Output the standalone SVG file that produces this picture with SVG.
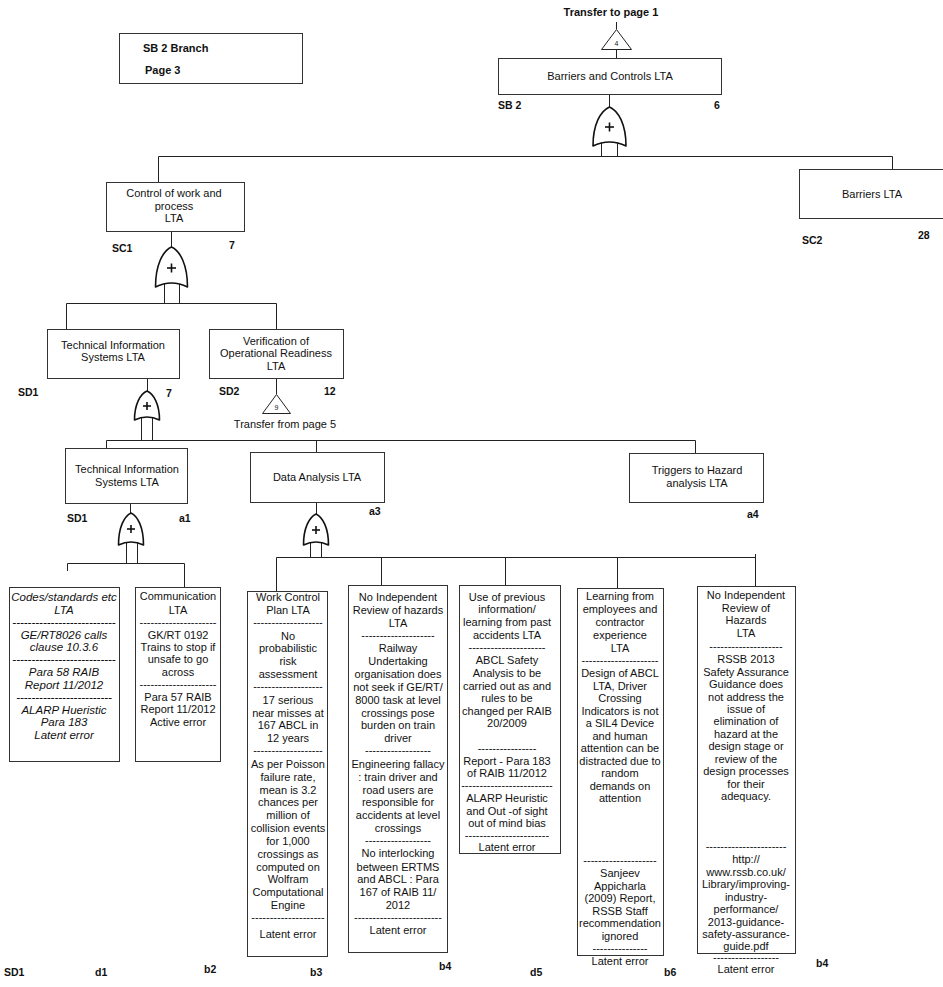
<svg xmlns="http://www.w3.org/2000/svg" width="943" height="987" viewBox="0 0 943 987">
<style>
.t{font-family:"Liberation Sans",Arial,sans-serif;font-size:11px;fill:#111;text-anchor:middle}
.i{font-style:italic;font-size:11.5px}
.lb{font-family:"Liberation Sans",Arial,sans-serif;font-size:10.5px;font-weight:bold;fill:#111}
.box{fill:#fff;stroke:#333;stroke-width:1}
.ln{stroke:#222;stroke-width:1;fill:none}
.gate{fill:#fff;stroke:#111;stroke-width:1.6;stroke-linejoin:round}
.plus{stroke:#111;stroke-width:1.6}
.tri{fill:#fff;stroke:#222;stroke-width:1}
.sm{font-family:"Liberation Sans",Arial,sans-serif;font-size:7px;fill:#222;text-anchor:middle}
</style>
<rect width="943" height="987" fill="#fff"/>

<g id="connectors">
  <line class="ln" x1="616.5" y1="22" x2="616.5" y2="29"/>
  <line class="ln" x1="616.5" y1="49" x2="616.5" y2="58"/>
  <line class="ln" x1="609.5" y1="94" x2="609.5" y2="108"/>
  <line class="ln" x1="601.5" y1="138" x2="601.5" y2="157"/>
  <line class="ln" x1="617.5" y1="138" x2="617.5" y2="157"/>
  <polyline class="ln" points="158.5,182 158.5,156.5 892.5,156.5 892.5,169"/>
  <line class="ln" x1="171.5" y1="231" x2="171.5" y2="248"/>
  <line class="ln" x1="164.5" y1="280" x2="164.5" y2="304"/>
  <line class="ln" x1="179.5" y1="280" x2="179.5" y2="304"/>
  <polyline class="ln" points="66.5,329 66.5,303.5 276.5,303.5 276.5,329"/>
  <line class="ln" x1="147.5" y1="378" x2="147.5" y2="392"/>
  <line class="ln" x1="276.5" y1="378" x2="276.5" y2="394"/>
  <line class="ln" x1="141.5" y1="414" x2="141.5" y2="441"/>
  <line class="ln" x1="152.5" y1="414" x2="152.5" y2="441"/>
  <polyline class="ln" points="106.5,448 106.5,440.5 695.5,440.5 695.5,453"/>
  <line class="ln" x1="316.5" y1="440.5" x2="316.5" y2="452"/>
  <line class="ln" x1="130.5" y1="503" x2="130.5" y2="514"/>
  <line class="ln" x1="316.5" y1="502" x2="316.5" y2="515"/>
  <line class="ln" x1="126.5" y1="538" x2="126.5" y2="563"/>
  <line class="ln" x1="137.5" y1="538" x2="137.5" y2="563"/>
  <polyline class="ln" points="67.5,571 67.5,563.5 184.5,563.5 184.5,587"/>
  <line class="ln" x1="310.5" y1="538" x2="310.5" y2="558"/>
  <line class="ln" x1="321.5" y1="538" x2="321.5" y2="558"/>
  <line class="ln" x1="276.5" y1="557.5" x2="755.5" y2="557.5"/>
  <line class="ln" x1="276.5" y1="557.5" x2="276.5" y2="592"/>
  <line class="ln" x1="381.5" y1="557.5" x2="381.5" y2="586"/>
  <line class="ln" x1="505.5" y1="557.5" x2="505.5" y2="586"/>
  <line class="ln" x1="617.5" y1="557.5" x2="617.5" y2="589"/>
  <line class="ln" x1="755.5" y1="554" x2="755.5" y2="587"/>
</g>

<g id="page-label">
  <rect class="box" x="119.5" y="33.5" width="183" height="50"/>
  <text class="lb" style="font-size:11px" x="143" y="52">SB 2 Branch</text>
  <text class="lb" style="font-size:11px" x="145" y="74">Page 3</text>
</g>

<g id="transfer-to-1">
  <text class="lb" style="font-size:11px;text-anchor:middle" x="611" y="16">Transfer to page 1</text>
  <polygon class="tri" points="616.5,29.5 601.5,49.5 631.5,49.5"/>
  <text class="sm" x="616.5" y="46">4</text>
</g>

<g id="SB2">
  <rect class="box" x="498.5" y="58.5" width="223" height="36"/>
  <text class="t" x="610" y="80">Barriers and Controls LTA</text>
  <text class="lb" x="498" y="109">SB 2</text>
  <text class="lb" x="714" y="109">6</text>
</g>
<g id="gate-SB2">
  <path class="gate" d="M609.5,107 C618.6,110.9 626,124.6 626,146 Q609.5,138 593,146 C593,124.6 600.4,110.9 609.5,107 Z"/>
  <line class="plus" x1="605" y1="127" x2="614" y2="127"/><line class="plus" x1="609.5" y1="122.5" x2="609.5" y2="131.5"/>
</g>

<g id="SC2">
  <rect class="box" x="799.5" y="169.5" width="150" height="49"/>
  <text class="t" x="872" y="198">Barriers LTA</text>
  <text class="lb" x="802" y="244">SC2</text>
  <text class="lb" x="918" y="239">28</text>
</g>

<g id="SC1">
  <rect class="box" x="106.5" y="182.5" width="138" height="49"/>
  <text class="t" x="174" y="197">Control of work and</text>
  <text class="t" x="174" y="210">process</text>
  <text class="t" x="174" y="222">LTA</text>
  <text class="lb" x="112" y="252">SC1</text>
  <text class="lb" x="229" y="249">7</text>
</g>
<g id="gate-SC1">
  <path class="gate" d="M171.5,247 C180.3,251 187.5,265 187.5,287 Q171.5,279 155.5,287 C155.5,265 162.7,251 171.5,247 Z"/>
  <line class="plus" x1="167" y1="268" x2="176" y2="268"/><line class="plus" x1="171.5" y1="263.5" x2="171.5" y2="272.5"/>
</g>

<g id="SD1-top">
  <rect class="box" x="47.5" y="329.5" width="132" height="49"/>
  <text class="t" x="113" y="349">Technical Information</text>
  <text class="t" x="113" y="361">Systems LTA</text>
  <text class="lb" x="18" y="396">SD1</text>
  <text class="lb" x="166" y="397">7</text>
</g>
<g id="gate-SD1-top">
  <path class="gate" d="M147,391 C153.9,394 159.5,404.5 159.5,420 Q147,414 134.5,420 C134.5,404.5 140.1,394 147,391 Z"/>
  <line class="plus" x1="143" y1="406" x2="151" y2="406"/><line class="plus" x1="147" y1="402" x2="147" y2="410"/>
</g>

<g id="SD2">
  <rect class="box" x="209.5" y="329.5" width="134" height="49"/>
  <text class="t" x="276" y="345">Verification of</text>
  <text class="t" x="276" y="357">Operational Readiness</text>
  <text class="t" x="276" y="370">LTA</text>
  <text class="lb" x="219" y="395">SD2</text>
  <text class="lb" x="324" y="395">12</text>
</g>
<g id="transfer-from-5">
  <polygon class="tri" points="276.5,394.5 262.5,413.5 290.5,413.5"/>
  <text class="sm" x="276.5" y="410">9</text>
  <text class="t" x="285" y="428">Transfer from page 5</text>
</g>

<g id="SD1-a1">
  <rect class="box" x="65.5" y="448.5" width="122" height="55"/>
  <text class="t" x="127" y="473">Technical Information</text>
  <text class="t" x="127" y="486">Systems LTA</text>
  <text class="lb" x="67" y="522">SD1</text>
  <text class="lb" x="179" y="522">a1</text>
</g>
<g id="gate-a1">
  <path class="gate" d="M131,513 C137.9,516.3 143.5,527.4 143.5,545 Q131,539 118.5,545 C118.5,527.4 124.1,516.3 131,513 Z"/>
  <line class="plus" x1="127" y1="529" x2="135" y2="529"/><line class="plus" x1="131" y1="525" x2="131" y2="533"/>
</g>

<g id="a3">
  <rect class="box" x="250.5" y="452.5" width="134" height="50"/>
  <text class="t" x="317" y="481">Data Analysis LTA</text>
  <text class="lb" x="369" y="515">a3</text>
</g>
<g id="gate-a3">
  <path class="gate" d="M316,514 C322.9,517.3 328.5,528.1 328.5,545 Q316,539 303.5,545 C303.5,528.1 309.1,517.3 316,514 Z"/>
  <line class="plus" x1="312" y1="530" x2="320" y2="530"/><line class="plus" x1="316" y1="526" x2="316" y2="534"/>
</g>

<g id="a4">
  <rect class="box" x="629.5" y="453.5" width="134" height="49"/>
  <text class="t" x="697" y="474">Triggers to Hazard</text>
  <text class="t" x="697" y="487">analysis LTA</text>
  <text class="lb" x="747" y="518">a4</text>
</g>

<g id="d1">
  <rect class="box" x="9.5" y="587.5" width="110" height="174"/>
  <text class="t i" x="64" y="601">Codes/standards etc</text>
  <text class="t i" x="64" y="614">LTA</text>
  <text class="t i" x="64" y="626">---------------------------</text>
  <text class="t i" x="64" y="639">GE/RT8026 calls</text>
  <text class="t i" x="64" y="651">clause 10.3.6</text>
  <text class="t i" x="64" y="663">---------------------------</text>
  <text class="t i" x="64" y="676">Para 58 RAIB</text>
  <text class="t i" x="64" y="689">Report 11/2012</text>
  <text class="t i" x="64" y="701">-------------------------</text>
  <text class="t i" x="64" y="714">ALARP Hueristic</text>
  <text class="t i" x="64" y="726">Para 183</text>
  <text class="t i" x="64" y="739">Latent error</text>
</g>

<g id="b2">
  <rect class="box" x="135.5" y="587.5" width="85" height="174"/>
  <text class="t" x="178" y="600">Communication</text>
  <text class="t" x="178" y="614">LTA</text>
  <text class="t" x="178" y="626">---------------------</text>
  <text class="t" x="178" y="639">GK/RT 0192</text>
  <text class="t" x="178" y="651">Trains to stop if</text>
  <text class="t" x="178" y="663">unsafe to go</text>
  <text class="t" x="178" y="676">across</text>
  <text class="t" x="178" y="688">---------------------</text>
  <text class="t" x="178" y="701">Para 57 RAIB</text>
  <text class="t" x="178" y="713">Report 11/2012</text>
  <text class="t" x="178" y="726">Active error</text>
</g>

<g id="b3">
  <rect class="box" x="247.5" y="591.5" width="80" height="365"/>
  <text class="t" x="288" y="601">Work Control</text>
  <text class="t" x="288" y="614">Plan LTA</text>
  <text class="t" x="288" y="626">-------------------</text>
  <text class="t" x="288" y="640">No</text>
  <text class="t" x="288" y="652">probabilistic</text>
  <text class="t" x="288" y="665">risk</text>
  <text class="t" x="288" y="678">assessment</text>
  <text class="t" x="288" y="690">-------------------</text>
  <text class="t" x="288" y="704">17 serious</text>
  <text class="t" x="288" y="717">near misses at</text>
  <text class="t" x="288" y="729">167 ABCL in</text>
  <text class="t" x="288" y="742">12 years</text>
  <text class="t" x="288" y="754">-------------------</text>
  <text class="t" x="288" y="768">As per Poisson</text>
  <text class="t" x="288" y="781">failure rate,</text>
  <text class="t" x="288" y="794">mean is 3.2</text>
  <text class="t" x="288" y="806">chances per</text>
  <text class="t" x="288" y="819">million of</text>
  <text class="t" x="288" y="832">collision events</text>
  <text class="t" x="288" y="845">for 1,000</text>
  <text class="t" x="288" y="858">crossings as</text>
  <text class="t" x="288" y="871">computed on</text>
  <text class="t" x="288" y="883">Wolfram</text>
  <text class="t" x="288" y="896">Computational</text>
  <text class="t" x="288" y="909">Engine</text>
  <text class="t" x="288" y="921">--------------------</text>
  <text class="t" x="288" y="938">Latent error</text>
</g>

<g id="b4-left">
  <rect class="box" x="348.5" y="585.5" width="99" height="367"/>
  <text class="t" x="398" y="601">No Independent</text>
  <text class="t" x="398" y="614">Review of hazards</text>
  <text class="t" x="398" y="627">LTA</text>
  <text class="t" x="398" y="639">--------------------</text>
  <text class="t" x="398" y="652">Railway</text>
  <text class="t" x="398" y="665">Undertaking</text>
  <text class="t" x="398" y="678">organisation does</text>
  <text class="t" x="398" y="691">not seek if GE/RT/</text>
  <text class="t" x="398" y="704">8000 task at level</text>
  <text class="t" x="398" y="717">crossings pose</text>
  <text class="t" x="398" y="729">burden on train</text>
  <text class="t" x="398" y="742">driver</text>
  <text class="t" x="398" y="754">------------------</text>
  <text class="t" x="398" y="768">Engineering fallacy</text>
  <text class="t" x="398" y="781">: train driver and</text>
  <text class="t" x="398" y="794">road users are</text>
  <text class="t" x="398" y="806">responsible for</text>
  <text class="t" x="398" y="819">accidents at level</text>
  <text class="t" x="398" y="832">crossings</text>
  <text class="t" x="398" y="844">------------------</text>
  <text class="t" x="398" y="857">No interlocking</text>
  <text class="t" x="398" y="871">between ERTMS</text>
  <text class="t" x="398" y="883">and ABCL : Para</text>
  <text class="t" x="398" y="896">167 of RAIB 11/</text>
  <text class="t" x="398" y="909">2012</text>
  <text class="t" x="398" y="921">------------------------</text>
  <text class="t" x="398" y="934">Latent error</text>
</g>

<g id="d5">
  <rect class="box" x="459.5" y="585.5" width="101" height="268"/>
  <text class="t" x="507" y="601">Use of previous</text>
  <text class="t" x="507" y="613">information/</text>
  <text class="t" x="507" y="626">learning from past</text>
  <text class="t" x="507" y="639">accidents LTA</text>
  <text class="t" x="507" y="651">---------------------</text>
  <text class="t" x="507" y="664">ABCL Safety</text>
  <text class="t" x="507" y="677">Analysis to be</text>
  <text class="t" x="507" y="690">carried out as and</text>
  <text class="t" x="507" y="702">rules to be</text>
  <text class="t" x="507" y="715">changed per RAIB</text>
  <text class="t" x="507" y="727">20/2009</text>
  <text class="t" x="507" y="752">----------------</text>
  <text class="t" x="507" y="765">Report -  Para 183</text>
  <text class="t" x="507" y="777">of RAIB 11/2012</text>
  <text class="t" x="507" y="789">-------------------------</text>
  <text class="t" x="507" y="802">ALARP Heuristic</text>
  <text class="t" x="507" y="815">and Out -of sight</text>
  <text class="t" x="507" y="827">out of mind bias</text>
  <text class="t" x="507" y="839">-----------------------</text>
  <text class="t" x="507" y="851">Latent error</text>
</g>

<g id="b6">
  <rect class="box" x="577.5" y="588.5" width="86" height="367"/>
  <text class="t" x="620" y="600">Learning from</text>
  <text class="t" x="620" y="613">employees and</text>
  <text class="t" x="620" y="626">contractor</text>
  <text class="t" x="620" y="639">experience</text>
  <text class="t" x="620" y="652">LTA</text>
  <text class="t" x="620" y="664">---------------------</text>
  <text class="t" x="620" y="677">Design of ABCL</text>
  <text class="t" x="620" y="690">LTA, Driver</text>
  <text class="t" x="620" y="702">Crossing</text>
  <text class="t" x="620" y="715">Indicators is not</text>
  <text class="t" x="620" y="727">a SIL4 Device</text>
  <text class="t" x="620" y="740">and human</text>
  <text class="t" x="620" y="752">attention can be</text>
  <text class="t" x="620" y="765">distracted due to</text>
  <text class="t" x="620" y="777">random</text>
  <text class="t" x="620" y="790">demands on</text>
  <text class="t" x="620" y="802">attention</text>
  <text class="t" x="620" y="864">--------------------</text>
  <text class="t" x="620" y="877">Sanjeev</text>
  <text class="t" x="620" y="890">Appicharla</text>
  <text class="t" x="620" y="902">(2009) Report,</text>
  <text class="t" x="620" y="915">RSSB Staff</text>
  <text class="t" x="620" y="927">recommendation</text>
  <text class="t" x="620" y="940">ignored</text>
  <text class="t" x="620" y="952">---------------</text>
  <text class="t" x="620" y="965">Latent error</text>
</g>

<g id="b4-right">
  <rect class="box" x="697.5" y="586.5" width="98" height="367"/>
  <text class="t" x="746" y="599">No Independent</text>
  <text class="t" x="746" y="612">Review of</text>
  <text class="t" x="746" y="624">Hazards</text>
  <text class="t" x="746" y="637">LTA</text>
  <text class="t" x="746" y="650">--------------------</text>
  <text class="t" x="746" y="663">RSSB 2013</text>
  <text class="t" x="746" y="676">Safety Assurance</text>
  <text class="t" x="746" y="688">Guidance does</text>
  <text class="t" x="746" y="701">not address the</text>
  <text class="t" x="746" y="713">issue of</text>
  <text class="t" x="746" y="725">elimination of</text>
  <text class="t" x="746" y="738">hazard at the</text>
  <text class="t" x="746" y="750">design stage or</text>
  <text class="t" x="746" y="763">review of the</text>
  <text class="t" x="746" y="775">design processes</text>
  <text class="t" x="746" y="788">for their</text>
  <text class="t" x="746" y="800">adequacy.</text>
  <text class="t" x="746" y="850">----------------------</text>
  <text class="t" x="746" y="863">http://</text>
  <text class="t" x="746" y="876">www.rssb.co.uk/</text>
  <text class="t" x="746" y="888">Library/improving-</text>
  <text class="t" x="746" y="901">industry-</text>
  <text class="t" x="746" y="913">performance/</text>
  <text class="t" x="746" y="926">2013-guidance-</text>
  <text class="t" x="746" y="938">safety-assurance-</text>
  <text class="t" x="746" y="950">guide.pdf</text>
  <text class="t" x="746" y="961">------------------</text>
  <text class="t" x="746" y="973">Latent error</text>
</g>

<g id="bottom-labels">
  <text class="lb" x="4" y="976">SD1</text>
  <text class="lb" x="95" y="976">d1</text>
  <text class="lb" x="204" y="973">b2</text>
  <text class="lb" x="310" y="976">b3</text>
  <text class="lb" x="439" y="970">b4</text>
  <text class="lb" x="530" y="976">d5</text>
  <text class="lb" x="664" y="976">b6</text>
  <text class="lb" x="816" y="967">b4</text>
</g>
</svg>
